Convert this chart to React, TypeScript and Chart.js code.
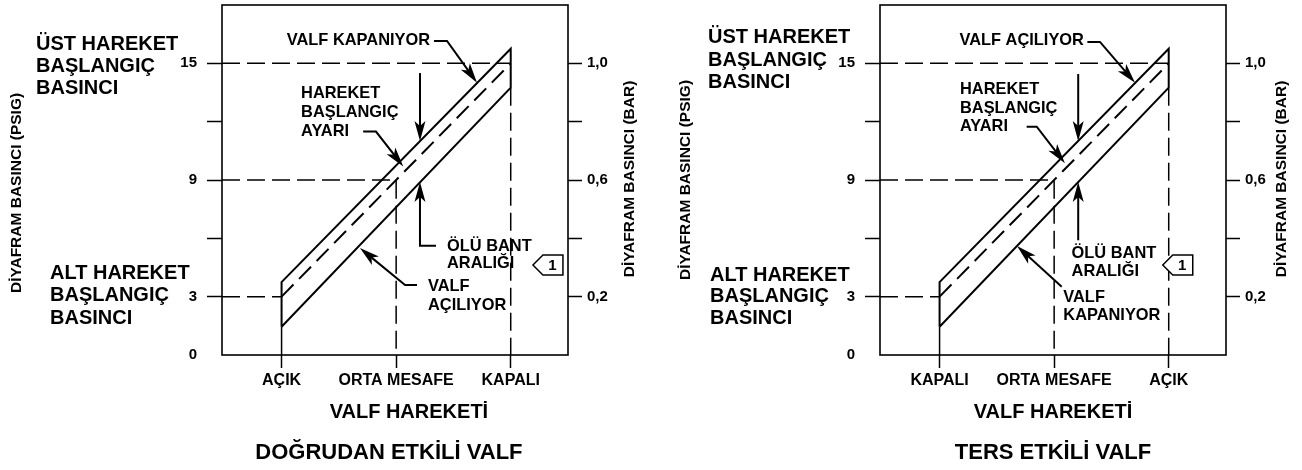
import { useEffect, useRef } from 'react';
import { Chart, registerables } from 'chart.js';

Chart.register(...registerables);

const FONT = '"Liberation Sans", Arial, Helvetica, sans-serif';

// ---------- data ----------
const travelMin = -26;
const travelMax = 125;
const psigMax = 18;
const barMax = 1.2;

const travelTickValues = [0, 50, 100];
const directTravelLabels = ['AÇIK', 'ORTA MESAFE', 'KAPALI'];
const reverseTravelLabels = ['KAPALI', 'ORTA MESAFE', 'AÇIK'];

const psigTickValues = [0, 3, 6, 9, 12, 15];
const psigTickLabels = ['0', '3', '', '9', '', '15'];

const barTickValues = [0.2, 0.4, 0.6, 0.8, 1.0];
const barTickLabels = ['0,2', '', '0,6', '', '1,0'];

// dead band parallelogram (travel %, psig)
const bandTravel = [0, 100, 100, 0, 0];
const bandPsig = [1.45, 13.75, 15.75, 3.75, 1.45];

// bench set line
const setTravel = [0, 100];
const setPsig = [3, 15];

// reference (dashed) lines
const ref15Travel = [travelMin, 100];
const ref15Psig = [15, 15];
const ref9Travel = [travelMin, 50, 50];
const ref9Psig = [9, 9, 0];
const ref3Travel = [travelMin, 0];
const ref3Psig = [3, 3];
const refEndTravel = [100, 100];
const refEndPsig = [13.75, 0];
const refStartTravel = [0, 0];
const refStartPsig = [1.45, 0];

// ---------- annotation layout ----------
type Note = { lines: string[]; x: number; y: number; align: 'left' | 'right'; lh: number };
type Side = { lines: string[]; x: number; y: number[] };
type Spec = {
  canvasWidth: number;
  travelLabels: string[];
  xTitle: string;
  title: string;
  yTitle: string;
  yTitlePad: number;
  y2Title: string;
  y2TitleX: number;
  notes: Note[];
  arrows: number[][][];
  tag: { x: number; y: number; label: string };
  sides: Side[];
};

const directSpec: Spec = {
  canvasWidth: 651,
  travelLabels: directTravelLabels,
  xTitle: '     VALF HAREKETİ',
  title: 'DOĞRUDAN ETKİLİ VALF  ',
  yTitle: 'DİYAFRAM BASINCI (PSIG)      ',
  yTitlePad: 7,
  y2Title: 'DİYAFRAM BASINCI (BAR)',
  y2TitleX: 630,
  notes: [
    { lines: ['VALF KAPANIYOR'], x: 64.8, y: 16.15, align: 'right', lh: 18.5 },
    { lines: ['HAREKET', 'BAŞLANGIÇ', 'AYARI'], x: 8.5, y: 13.45, align: 'left', lh: 19 },
    { lines: ['ÖLÜ BANT', 'ARALIĞI'], x: 72.2, y: 5.6, align: 'left', lh: 17.5 },
    { lines: ['VALF', 'AÇILIYOR'], x: 63.9, y: 3.5, align: 'left', lh: 18.5 },
  ],
  arrows: [
    [[66.5, 16.15], [72.2, 16.15], [85.3, 14.0]],
    [[35.6, 11.49], [41.2, 11.49], [53.1, 9.69]],
    [[60.4, 14.5], [60.4, 11.0]],
    [[67.4, 5.62], [60.4, 5.62], [60.4, 8.9]],
    [[59.1, 3.6], [53.9, 3.6], [34.2, 5.5]],
  ],
  tag: { x: 109.7, y: 4.63, label: '1' },
  sides: [
    { lines: ['ÜST HAREKET', 'BAŞLANGIÇ', 'BASINCI'], x: 36, y: [44.5, 66.3, 88.5] },
    { lines: ['ALT HAREKET', 'BAŞLANGIÇ', 'BASINCI'], x: 50, y: [273.3, 295.5, 318.3] },
  ],
};

const reverseSpec: Spec = {
  canvasWidth: 644,
  travelLabels: reverseTravelLabels,
  xTitle: 'VALF HAREKETİ',
  title: 'TERS ETKİLİ VALF',
  yTitle: 'DİYAFRAM BASINCI (PSIG)',
  yTitlePad: 18,
  y2Title: 'DİYAFRAM BASINCI (BAR)',
  y2TitleX: 624,
  notes: [
    { lines: ['VALF AÇILIYOR'], x: 63.0, y: 16.15, align: 'right', lh: 18.5 },
    { lines: ['HAREKET', 'BAŞLANGIÇ', 'AYARI'], x: 8.9, y: 13.63, align: 'left', lh: 18.5 },
    { lines: ['ÖLÜ BANT', 'ARALIĞI'], x: 57.6, y: 5.2, align: 'left', lh: 18 },
    { lines: ['VALF', 'KAPANIYOR'], x: 54.0, y: 2.95, align: 'left', lh: 18.3 },
  ],
  arrows: [
    [[64.5, 16.1], [70.0, 16.1], [85.3, 14.0]],
    [[38.0, 11.74], [42.4, 11.74], [54.7, 9.86]],
    [[60.5, 14.45], [60.5, 11.0]],
    [[60.5, 5.9], [60.5, 8.9]],
    [[53.3, 3.51], [33.8, 5.6]],
  ],
  tag: { x: 97.4, y: 4.63, label: '1' },
  sides: [
    { lines: ['ÜST HAREKET', 'BAŞLANGIÇ', 'BASINCI'], x: 50, y: [37, 60.5, 82.7] },
    { lines: ['ALT HAREKET', 'BAŞLANGIÇ', 'BASINCI'], x: 52, y: [275, 296.7, 318.8] },
  ],
};

function pts(xs: number[], ys: number[]) {
  return xs.map((x, i) => ({ x, y: ys[i] }));
}

function line(xs: number[], ys: number[], width: number, dash: number[]) {
  return {
    data: pts(xs, ys),
    borderColor: '#000',
    borderWidth: width,
    borderDash: dash,
    pointRadius: 0,
    fill: false,
    tension: 0,
  };
}

function drawHead(ctx: CanvasRenderingContext2D, fx: number, fy: number, tx: number, ty: number) {
  const ang = Math.atan2(ty - fy, tx - fx);
  const L = 20, W = 5.5, N = 5;
  ctx.save();
  ctx.translate(tx, ty);
  ctx.rotate(ang);
  ctx.beginPath();
  ctx.moveTo(0, 0);
  ctx.lineTo(-L, -W);
  ctx.lineTo(-L + N, 0);
  ctx.lineTo(-L, W);
  ctx.closePath();
  ctx.fill();
  ctx.restore();
}

function makeNotesPlugin(spec: Spec) {
  return {
    id: 'valveNotes',
    afterDatasetsDraw(chart: any) {
      const { ctx, chartArea } = chart;
      const xs = chart.scales.x;
      const ys = chart.scales.y;
      const px = (v: number) => xs.getPixelForValue(v);
      const py = (v: number) => ys.getPixelForValue(v);
      ctx.save();
      ctx.strokeStyle = '#000';
      ctx.fillStyle = '#000';
      // frame
      ctx.lineWidth = 1.6;
      ctx.setLineDash([]);
      ctx.strokeRect(chartArea.left, chartArea.top, chartArea.right - chartArea.left, chartArea.bottom - chartArea.top);

      // right axis title (reads bottom to top, like the left one)
      ctx.save();
      ctx.translate(spec.y2TitleX, (chartArea.top + chartArea.bottom) / 2 - 1);
      ctx.rotate(-Math.PI / 2);
      ctx.font = `bold 15.5px ${FONT}`;
      ctx.textAlign = 'center';
      ctx.textBaseline = 'middle';
      ctx.fillText(spec.y2Title, 0, 0);
      ctx.restore();

      // notes
      ctx.font = `bold 16.4px ${FONT}`;
      ctx.textBaseline = 'middle';
      for (const n of spec.notes) {
        ctx.textAlign = n.align;
        n.lines.forEach((t, i) => ctx.fillText(t, px(n.x), py(n.y) + i * n.lh));
      }

      // arrows
      ctx.lineWidth = 2;
      ctx.lineJoin = 'miter';
      for (const a of spec.arrows) {
        const p = a.map(([x, y]) => [px(x), py(y)]);
        const [tx, ty] = p[p.length - 1];
        const [fx, fy] = p[p.length - 2];
        const d = Math.hypot(tx - fx, ty - fy);
        const ex = tx - ((tx - fx) / d) * 10;
        const ey = ty - ((ty - fy) / d) * 10;
        ctx.beginPath();
        ctx.moveTo(p[0][0], p[0][1]);
        for (let i = 1; i < p.length - 1; i++) ctx.lineTo(p[i][0], p[i][1]);
        ctx.lineTo(ex, ey);
        ctx.stroke();
        drawHead(ctx, fx, fy, tx, ty);
      }

      // tag
      const gx = px(spec.tag.x);
      const gy = py(spec.tag.y);
      ctx.lineWidth = 1.5;
      ctx.beginPath();
      ctx.moveTo(gx, gy);
      ctx.lineTo(gx + 10, gy - 10);
      ctx.lineTo(gx + 30, gy - 10);
      ctx.lineTo(gx + 30, gy + 10);
      ctx.lineTo(gx + 10, gy + 10);
      ctx.closePath();
      ctx.fillStyle = '#fff';
      ctx.fill();
      ctx.stroke();
      ctx.fillStyle = '#000';
      ctx.font = `bold 15px ${FONT}`;
      ctx.textAlign = 'center';
      ctx.fillText(spec.tag.label, gx + 19.5, gy + 0.5);

      // side labels
      ctx.font = `bold 20px ${FONT}`;
      ctx.textAlign = 'left';
      for (const s of spec.sides) {
        s.lines.forEach((t, i) => ctx.fillText(t, s.x, s.y[i]));
      }
      ctx.restore();
    },
  };
}

function noPad(s: any) {
  s.paddingTop = 0;
  s.paddingBottom = 0;
  s.paddingLeft = 0;
  s.paddingRight = 0;
}

function buildConfig(spec: Spec): any {
  const tickFont = { family: FONT, size: 15, weight: 'bold' as const };
  return {
    type: 'line',
    data: {
      datasets: [
        line(bandTravel, bandPsig, 2, []),
        line(setTravel, setPsig, 2, [17, 8]),
        line(ref15Travel, ref15Psig, 1.5, [18, 7]),
        line(ref9Travel, ref9Psig, 1.5, [18, 7]),
        line(ref3Travel, ref3Psig, 1.5, [18, 7]),
        line(refEndTravel, refEndPsig, 1.5, [18, 7]),
        line(refStartTravel, refStartPsig, 1.5, []),
      ],
    },
    options: {
      animation: false,
      responsive: false,
      maintainAspectRatio: false,
      layout: { padding: { top: 5, left: 0, right: 0, bottom: 0 } },
      plugins: {
        legend: { display: false },
        tooltip: { enabled: false },
        title: {
          display: true,
          text: spec.title,
          position: 'bottom',
          fullSize: false,
          color: '#000',
          font: { family: FONT, size: 22, weight: 'bold' },
          padding: { top: 0, bottom: 4 },
        },
      },
      scales: {
        x: {
          type: 'linear',
          position: 'bottom',
          min: travelMin,
          max: travelMax,
          afterBuildTicks: (s: any) => {
            s.ticks = travelTickValues.map((v) => ({ value: v }));
          },
          afterFit: (s: any) => {
            s.height = 84.6;
            noPad(s);
          },
          ticks: {
            autoSkip: false,
            maxRotation: 0,
            color: '#000',
            padding: 3.4,
            font: { family: FONT, size: 16, weight: 'bold' },
            callback: (v: any) => spec.travelLabels[travelTickValues.indexOf(Number(v))] ?? '',
          },
          grid: { drawOnChartArea: false, drawTicks: true, tickLength: 13, tickWidth: 1.5, tickColor: '#000' },
          border: { display: false },
          title: {
            display: true,
            text: spec.xTitle,
            color: '#000',
            font: { family: FONT, size: 20, weight: 'bold' },
            padding: { top: 0, bottom: 15.6 },
          },
        },
        y: {
          type: 'linear',
          position: 'left',
          min: 0,
          max: psigMax,
          afterBuildTicks: (s: any) => {
            s.ticks = psigTickValues.map((v) => ({ value: v }));
          },
          afterFit: (s: any) => {
            s.width = 222;
            noPad(s);
          },
          ticks: {
            autoSkip: false,
            color: '#000',
            padding: 10,
            font: tickFont,
            callback: (v: any) => psigTickLabels[psigTickValues.indexOf(Number(v))] ?? '',
          },
          grid: {
            drawOnChartArea: false,
            drawTicks: true,
            tickLength: 15,
            tickWidth: 1.5,
            tickColor: (c: any) => (c.tick && c.tick.value === 0 ? 'rgba(0,0,0,0)' : '#000'),
          },
          border: { display: false },
          title: {
            display: true,
            text: spec.yTitle,
            color: '#000',
            font: { family: FONT, size: 15.5, weight: 'bold' },
            padding: { top: spec.yTitlePad, bottom: 0 },
          },
        },
        y2: {
          type: 'linear',
          position: 'right',
          min: 0,
          max: barMax,
          afterBuildTicks: (s: any) => {
            s.ticks = barTickValues.map((v) => ({ value: v }));
          },
          afterFit: (s: any) => {
            s.width = spec.canvasWidth - 568;
            noPad(s);
          },
          ticks: {
            autoSkip: false,
            color: '#000',
            padding: 5,
            font: tickFont,
            callback: (v: any) => barTickLabels[barTickValues.indexOf(Number(v))] ?? '',
          },
          grid: { drawOnChartArea: false, drawTicks: true, tickLength: 14, tickWidth: 1.5, tickColor: '#000' },
          border: { display: false },
          title: { display: false },
        },
      },
    },
    plugins: [makeNotesPlugin(spec)],
  };
}

export default function App() {
  const leftRef = useRef<HTMLCanvasElement>(null);
  const rightRef = useRef<HTMLCanvasElement>(null);

  useEffect(() => {
    const c1 = new Chart(leftRef.current as HTMLCanvasElement, buildConfig(directSpec));
    const c2 = new Chart(rightRef.current as HTMLCanvasElement, buildConfig(reverseSpec));
    return () => {
      c1.destroy();
      c2.destroy();
    };
  }, []);

  return (
    <div style={{ position: 'fixed', left: 0, top: 0, width: 1302, height: 470, background: '#fff' }}>
      <canvas
        ref={leftRef}
        width={651}
        height={470}
        style={{ position: 'absolute', left: 0, top: 0, width: 651, height: 470 }}
      />
      <canvas
        ref={rightRef}
        width={644}
        height={470}
        style={{ position: 'absolute', left: 658, top: 0, width: 644, height: 470 }}
      />
    </div>
  );
}
